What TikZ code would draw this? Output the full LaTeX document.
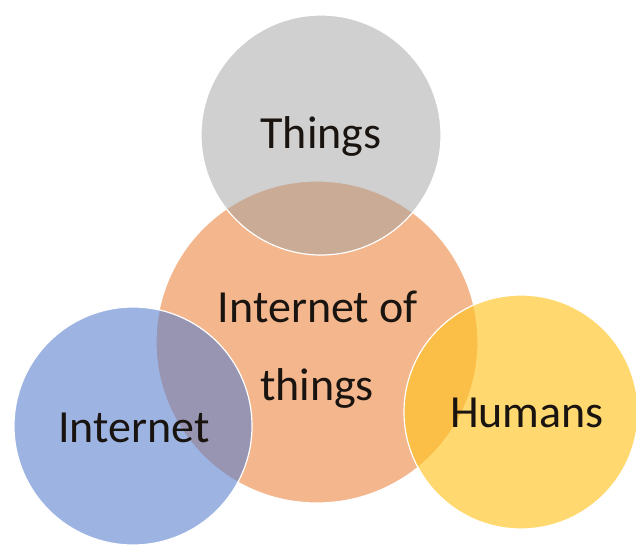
\documentclass[tikz,border=0pt]{standalone}
\usepackage{fontspec}
\setmainfont{Carlito}
\definecolor{iotfill}{HTML}{F4B68C}
\definecolor{thingsfill}{HTML}{A1A1A1}
\definecolor{netfill}{RGB}{86,126,207}
\definecolor{humanfill}{RGB}{255,196,32}
\definecolor{labelink}{HTML}{1A1410}
\begin{document}
\begin{tikzpicture}[x=1pt,y=-1pt,
  venn/.style={circle, inner sep=0pt, draw=white, line width=1.2pt},
  vlabel/.style={anchor=base, inner sep=0pt, text=labelink, font=\fontsize{46}{52}\selectfont}]
  \useasboundingbox (0,0) rectangle (636,544);
  % central circle first, the others overlap it
  \node[venn, fill=iotfill, minimum size=322pt] (iot) at (317,342) {};
  \node[venn, fill=thingsfill, fill opacity=0.5, minimum size=240pt] (things) at (321,135) {};
  \node[venn, fill=netfill, fill opacity=0.58, minimum size=238pt] (internet) at (133,426) {};
  \node[venn, fill=humanfill, fill opacity=0.64, minimum size=234pt] (humans) at (521,412) {};
  % labels
  \node[vlabel] (thingslbl) at (321,148) {Things};
  \node[vlabel] (iotlblA) at (318,322) {Internet of};
  \node[vlabel] (iotlblB) at (317,400) {things};
  \node[vlabel] (internetlbl) at (134,442) {Internet};
  \node[vlabel] (humanslbl) at (527,427) {Humans};
\end{tikzpicture}
\end{document}
